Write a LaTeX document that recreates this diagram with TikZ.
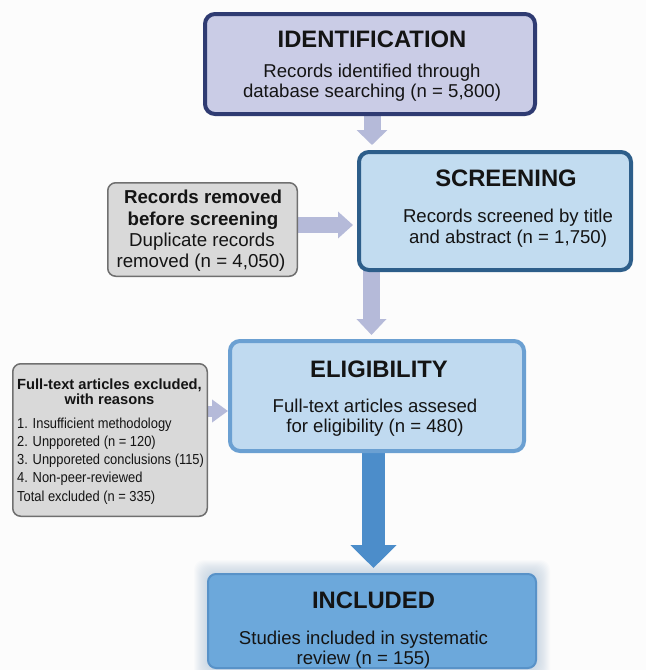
\documentclass[tikz,border=0pt]{standalone}
\usepackage{fontspec}
\setmainfont{Liberation Sans}
\usetikzlibrary{arrows.meta}
\definecolor{bgc}{HTML}{FCFCFC}
\definecolor{txt}{HTML}{141414}
\definecolor{identfill}{HTML}{CACCE6}
\definecolor{identdraw}{HTML}{2F3B72}
\definecolor{screenfill}{HTML}{C2DCF0}
\definecolor{screendraw}{HTML}{2D5E8A}
\definecolor{eligfill}{HTML}{C0DAF0}
\definecolor{eligdraw}{HTML}{6BA0D2}
\definecolor{inclfill}{HTML}{6CA8DB}
\definecolor{incldraw}{HTML}{5892C8}
\definecolor{grayfill}{HTML}{D9D9D9}
\definecolor{graydraw}{HTML}{707070}
\definecolor{lightarr}{HTML}{B5BAD9}
\definecolor{bigarr}{HTML}{4C8DCA}
\definecolor{glowc}{HTML}{8FB0D0}
\pgfdeclarelayer{bglayer}
\pgfdeclarelayer{midlayer}
\pgfsetlayers{bglayer,midlayer,main}
\newcommand{\narrowtext}[1]{\scalebox{0.89}[1]{#1}}
\tikzset{
  boxbase/.style={rectangle, inner sep=0pt, outer sep=0pt},
  titletext/.style={font=\fontsize{23.8}{28}\selectfont\bfseries, anchor=base, text=txt, inner sep=0pt},
  bodytext/.style={font=\fontsize{18.6}{21}\selectfont, anchor=base, text=txt, inner sep=0pt},
  graybold/.style={font=\fontsize{18.7}{21}\selectfont\bfseries, anchor=base, text=txt, inner sep=0pt},
  exclbold/.style={font=\fontsize{14.7}{17}\selectfont\bfseries, anchor=base, text=txt, inner sep=0pt},
  exclbody/.style={font=\fontsize{14.5}{17}\selectfont, anchor=base west, text=txt, inner sep=0pt},
  lightarrow/.style={draw=lightarr, line cap=butt},
  bigarrow/.style={draw=bigarr, line cap=butt},
}
\begin{document}
\begin{tikzpicture}[x=1pt,y=-1pt]
\useasboundingbox (0,0) rectangle (646,670);
\begin{pgfonlayer}{bglayer}
\fill[bgc] (0,0) rectangle (646,670);
\end{pgfonlayer}

% boxes
\node[boxbase, draw=identdraw, fill=identfill, line width=4pt, rounded corners=10pt,
      minimum width=330pt, minimum height=100pt] (ident) at (370,64) {};
\node[boxbase, draw=screendraw, fill=screenfill, line width=4pt, rounded corners=10pt,
      minimum width=272pt, minimum height=118pt] (screen) at (495,211) {};
\node[boxbase, draw=graydraw, fill=grayfill, line width=1.5pt, rounded corners=8pt,
      minimum width=189.5pt, minimum height=93.5pt] (removed) at (202.5,229.5) {};
\node[boxbase, draw=eligdraw, fill=eligfill, line width=4pt, rounded corners=10pt,
      minimum width=294pt, minimum height=110pt] (elig) at (377,396) {};
\node[boxbase, draw=graydraw, fill=grayfill, line width=1.5pt, rounded corners=8pt,
      minimum width=194.5pt, minimum height=152.5pt] (excl) at (110,440) {};
\node[boxbase, draw=incldraw, fill=inclfill, line width=2pt, rounded corners=8pt,
      minimum width=328pt, minimum height=94pt] (incl) at (372,621) {};

% glow around included box
\begin{pgfonlayer}{midlayer}
\foreach \g in {1,2,...,14} {
  \fill[glowc, opacity=0.035, rounded corners=10pt]
    ([shift={(-\g,-\g)}]incl.north west) rectangle ([shift={(\g,\g)}]incl.south east);
}
\end{pgfonlayer}

% connector helper coordinates
\coordinate (xa) at (372,0);
\coordinate (xb) at (371.5,0);
\coordinate (xc) at (373.5,0);
\coordinate (ya) at (0,145);
\coordinate (yb) at (0,335);
\coordinate (yc) at (0,568);
\coordinate (yd) at (0,225);
\coordinate (ye) at (0,411);
\coordinate (xd) at (353,0);
\coordinate (xe) at (228,0);

\begin{pgfonlayer}{midlayer}
\draw[lightarrow, line width=17pt, -{Triangle[width=30pt,length=15pt]}]
  (ident.south -| xa) -- (ya -| xa);
\draw[lightarrow, line width=16pt, -{Triangle[width=26pt,length=15pt]}]
  (removed.east |- yd) -- (xd |- yd);
\draw[lightarrow, line width=17pt, -{Triangle[width=29pt,length=16pt]}]
  (screen.south -| xb) -- (yb -| xb);
\draw[lightarrow, line width=11pt, -{Triangle[width=22pt,length=16pt]}]
  (excl.east |- ye) -- (xe |- ye);
\draw[bigarrow, line width=23pt, -{Triangle[width=45pt,length=23pt]}]
  (elig.south -| xc) -- (yc -| xc);
\end{pgfonlayer}

% texts
\node[titletext] (identt) at (372,47) {IDENTIFICATION};
\node[bodytext] (identl1) at (372,77) {Records identified through};
\node[bodytext] (identl2) at (372,97) {database searching (n = 5,800)};

\node[titletext] (screent) at (506,186) {SCREENING};
\node[bodytext] (screenl1) at (508,222) {Records screened by title};
\node[bodytext] (screenl2) at (508,243) {and abstract (n = 1,750)};

\node[graybold] (reml1) at (203,203) {Records removed};
\node[graybold] (reml2) at (203,225) {before screening};
\node[bodytext, font=\fontsize{18.7}{21}\selectfont] (reml3) at (202,246) {Duplicate records};
\node[bodytext, font=\fontsize{18.7}{21}\selectfont] (reml4) at (201,267) {removed (n = 4,050)};

\node[titletext] (eligt) at (379,377) {ELIGIBILITY};
\node[bodytext] (eligl1) at (375,412) {Full-text articles assesed};
\node[bodytext] (eligl2) at (375,432) {for eligibility (n = 480)};

\node[exclbold] (exl1) at (109.5,389) {Full-text articles excluded,};
\node[exclbold] (exl2) at (109.5,404) {with reasons};
\node[exclbody] (exl3) at (17,428) {\narrowtext{1. Insufficient methodology}};
\node[exclbody] (exl4) at (17,446.25) {\narrowtext{2. Unpporeted (n = 120)}};
\node[exclbody] (exl5) at (17,464.5) {\narrowtext{3. Unpporeted conclusions (115)}};
\node[exclbody] (exl6) at (17,482.75) {\narrowtext{4. Non-peer-reviewed}};
\node[exclbody] (exl7) at (17,501) {\narrowtext{Total excluded (n = 335)}};

\node[titletext] (inclt) at (373.5,608) {INCLUDED};
\node[bodytext] (incll1) at (363.5,644) {Studies included in systematic};
\node[bodytext] (incll2) at (363.5,664) {review (n = 155)};
\end{tikzpicture}
\end{document}
